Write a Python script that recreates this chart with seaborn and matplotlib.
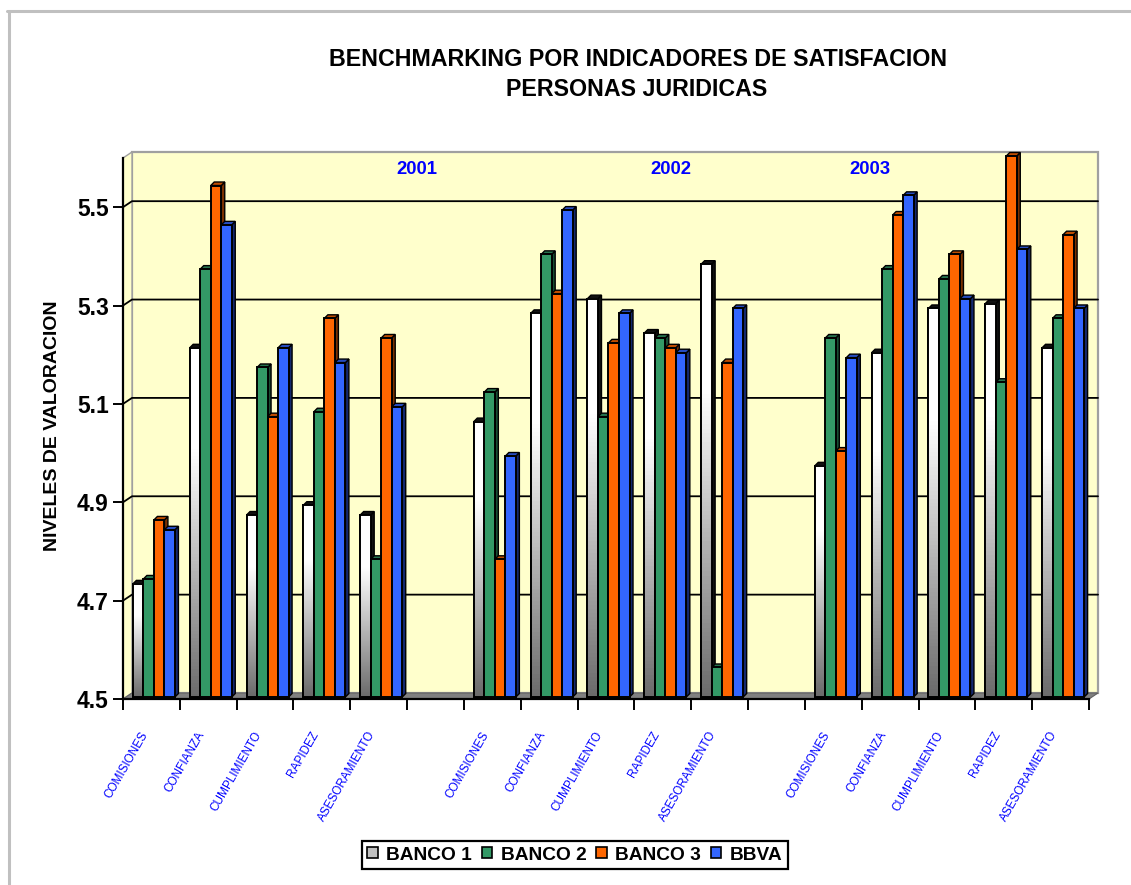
import numpy as np
import pandas as pd
import seaborn as sns
import matplotlib.pyplot as plt
from matplotlib.lines import Line2D
from matplotlib.patches import Polygon, Patch, Rectangle

years = ['2001', '2002', '2003']
indicators = ['COMISIONES', 'CONFIANZA', 'CUMPLIMIENTO', 'RAPIDEZ', 'ASESORAMIENTO']
banks = ['BANCO 1', 'BANCO 2', 'BANCO 3', 'BBVA']

banco1 = [4.73, 5.21, 4.87, 4.89, 4.87, 5.06, 5.28, 5.31, 5.24, 5.38, 4.97, 5.20, 5.29, 5.30, 5.21]
banco2 = [4.74, 5.37, 5.17, 5.08, 4.78, 5.12, 5.40, 5.07, 5.23, 4.56, 5.23, 5.37, 5.35, 5.14, 5.27]
banco3 = [4.86, 5.54, 5.07, 5.27, 5.23, 4.78, 5.32, 5.22, 5.21, 5.18, 5.00, 5.48, 5.40, 5.60, 5.44]
bbva = [4.84, 5.46, 5.21, 5.18, 5.09, 4.99, 5.49, 5.28, 5.20, 5.29, 5.19, 5.52, 5.31, 5.41, 5.29]

front_colors = ['#ffffff', '#339966', '#ff6600', '#3366ff']
side_colors = ['#111111', '#174d33', '#7a3000', '#14286e']
top_colors = ['#111111', '#26734d', '#c04d00', '#264cbf']

W, H = 1131, 885
YMIN, YMAX = 4.5, 5.6

# etykiety kategorii: unikalny klucz na rok, puste miejsce miedzy latami
order = []
tick_labels = []
keys = []
for y_i, year in enumerate(years):
    for ind in indicators:
        order.append(year + ' ' + ind)
        keys.append(year + ' ' + ind)
        tick_labels.append(ind)
    if y_i < len(years) - 1:
        order.append('gap ' + year)
        tick_labels.append('')

df = pd.DataFrame({
    'key': keys * 4,
    'bank': np.repeat(banks, len(keys)),
    'value': banco1 + banco2 + banco3 + bbva,
})

sns.set_theme(style='white')
plt.rcParams['font.family'] = ['Liberation Sans', 'DejaVu Sans']
plt.rcParams['text.color'] = 'black'

fig = plt.figure(figsize=(W / 100, H / 100), dpi=100, facecolor='white')
ax = fig.add_axes([123 / W, 1 - 699 / H, (1089 - 123) / W, (699 - 158) / H])
ax.patch.set_alpha(0)

sns.barplot(data=df, x='key', y='value', hue='bank', order=order, hue_order=banks,
            palette=front_colors, saturation=1, width=0.74, gap=0, dodge=True, legend=False,
            errorbar=None, edgecolor='black', linewidth=1.4, ax=ax, zorder=5)

xmin, xmax = -0.5, len(order) - 0.5
ax.set_xlim(xmin, xmax)
ax.set_ylim(YMIN, YMAX)

# przeliczenie pikseli na jednostki danych
px = (xmax - xmin) / (1089 - 123)
py = (YMAX - YMIN) / (699 - 158)
wall_dx, wall_dy = 9 * px, 6 * py
bar_dx, bar_dy = 2.5 * px, 2 * py
depth_dx, depth_dy = 3.5 * px, 3.5 * py

# sciany i podloga
wall = Polygon([(xmin + wall_dx, YMIN + wall_dy), (xmin + wall_dx, YMAX + wall_dy),
                (xmax + wall_dx, YMAX + wall_dy), (xmax + wall_dx, YMIN + wall_dy)],
               closed=True, fc='#ffffcc', ec='#a0a0a0', lw=1.6, clip_on=False, zorder=0)
side = Polygon([(xmin, YMIN), (xmin, YMAX), (xmin + wall_dx, YMAX + wall_dy), (xmin + wall_dx, YMIN + wall_dy)],
               closed=True, fc='#ffffcc', ec='#a0a0a0', lw=1.0, clip_on=False, zorder=0)
floor = Polygon([(xmin, YMIN), (xmax, YMIN), (xmax + wall_dx, YMIN + wall_dy), (xmin + wall_dx, YMIN + wall_dy)],
                closed=True, fc='#808080', ec='#606060', lw=0.8, clip_on=False, zorder=1)
ax.add_patch(wall)
ax.add_patch(side)
ax.add_patch(floor)

yticks = [4.5, 4.7, 4.9, 5.1, 5.3, 5.5]
for t in yticks[1:]:
    ax.plot([xmin, xmin + wall_dx, xmax + wall_dx], [t, t + wall_dy, t + wall_dy],
            color='black', lw=1.3, clip_on=False, zorder=2)

# slupki 3D: bok, gora, przod
fade = np.concatenate([np.linspace(0.42, 1, 72), np.ones(28)]).reshape(-1, 1)
for bank_i, container in enumerate(ax.containers):
    for bar in container:
        if np.isnan(bar.get_height()) or bar.get_height() == 0:
            continue
        x0, wd, v = bar.get_x(), bar.get_width(), bar.get_height()
        order_z = 5 + (x0 - xmin) * 4
        fx, fb, ft = x0 + bar_dx, YMIN + bar_dy, v + bar_dy
        bar.set_x(fx)
        bar.set_y(fb)
        bar.set_height(v - YMIN)
        bar.set_clip_on(False)
        bar.set_zorder(order_z + 0.2)
        ax.add_patch(Polygon([(fx + wd, fb), (fx + wd, ft), (fx + wd + depth_dx, ft + depth_dy), (fx + wd + depth_dx, fb + depth_dy)],
                             closed=True, fc=side_colors[bank_i], ec='black', lw=1.0, clip_on=False, zorder=order_z))
        ax.add_patch(Polygon([(fx, ft), (fx + wd, ft), (fx + wd + depth_dx, ft + depth_dy), (fx + depth_dx, ft + depth_dy)],
                             closed=True, fc=top_colors[bank_i], ec='black', lw=1.0, clip_on=False, zorder=order_z + 0.1))
        if bank_i == 0:
            ax.imshow(fade, extent=(fx, fx + wd, fb, ft), aspect='auto', cmap='gray',
                      vmin=0, vmax=1, origin='lower', zorder=order_z + 0.3, clip_on=False)
            ax.add_patch(Rectangle((fx, fb), wd, v - YMIN, fc='none', ec='black', lw=1.4,
                                   clip_on=False, zorder=order_z + 0.4))
ax.set_xlim(xmin, xmax)
ax.set_ylim(YMIN, YMAX)

# osie
sns.despine(ax=ax, top=True, right=True)
for s in ['left', 'bottom']:
    ax.spines[s].set_linewidth(1.6)
    ax.spines[s].set_color('black')
    ax.spines[s].set_zorder(60)
ax.set_yticks(yticks)
ax.set_yticklabels(['%.1f' % t for t in yticks], fontsize=16.5, fontweight='bold', color='black')
ax.tick_params(axis='y', left=True, length=7.2, width=1.4, color='black', pad=3)
ax.set_xticks(np.arange(xmin, xmax + 0.5, 1))
ax.set_xticklabels([])
ax.tick_params(axis='x', bottom=True, length=8, width=1.4, color='black')
ax.set_xlabel('')
ax.set_ylabel('')
ax.grid(False)

for i, lab in enumerate(tick_labels):
    if lab:
        ax.annotate(lab, xy=(i, YMIN), xycoords='data', xytext=(-8, -22), textcoords='offset points',
                    rotation=60, ha='right', va='top', rotation_mode='anchor', color='#0000ff',
                    fontsize=8.5, annotation_clip=False)

# teksty
fig.text(638 / W, 1 - 60 / H, 'BENCHMARKING POR INDICADORES DE SATISFACION', ha='center', va='center',
         fontsize=16.75, fontweight='bold', color='black')
fig.text(637 / W, 1 - 90 / H, 'PERSONAS JURIDICAS', ha='center', va='center',
         fontsize=16.75, fontweight='bold', color='black')
fig.text(53 / W, 1 - 426 / H, 'NIVELES DE VALORACION', rotation=90, ha='center', va='center',
         fontsize=14, fontweight='bold', color='black')
for year, xp in zip(years, [417, 671, 870]):
    fig.text(xp / W, 1 - 170 / H, year, ha='center', va='center', fontsize=13.3,
             fontweight='bold', color='#0000ff')

handles = [Patch(fc=c, ec='black', lw=1.2) for c in ['#c0c0c0'] + front_colors[1:]]
leg = fig.legend(handles, banks, ncol=4, loc='center', bbox_to_anchor=(575 / W, 1 - 855 / H),
                 frameon=True, fancybox=False, framealpha=1, edgecolor='black',
                 prop={'weight': 'bold', 'size': 13.8}, labelcolor='black', handlelength=0.55,
                 handleheight=0.55, handletextpad=0.45, columnspacing=0.5, borderpad=0.3,
                 borderaxespad=0)
leg.get_frame().set_linewidth(1.6)

# ramka wykresu
fig.add_artist(Line2D([8.5 / W, 8.5 / W], [0, 1 - 10.5 / H], transform=fig.transFigure, color='#c0c0c0', lw=2.2))
fig.add_artist(Line2D([7 / W, 1], [1 - 10.5 / H, 1 - 10.5 / H], transform=fig.transFigure, color='#c0c0c0', lw=2.2))

fig.savefig('out.png', dpi=100)
plt.close(fig)
